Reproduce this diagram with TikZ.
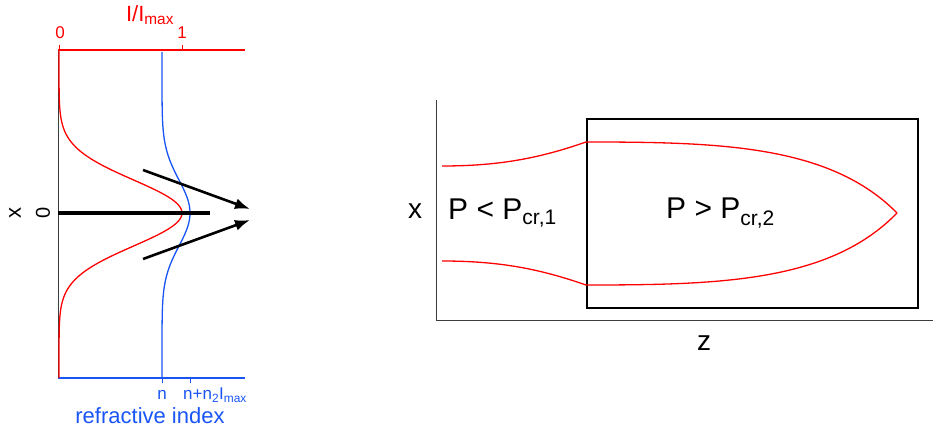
\documentclass[tikz,border=0pt]{standalone}
\usepackage{fontspec}
\setmainfont{Liberation Sans}
\usetikzlibrary{arrows.meta}
\definecolor{rd}{RGB}{255,0,0}
\definecolor{bl}{RGB}{25,85,245}
\definecolor{ax}{RGB}{60,60,60}
\newcommand{\fs}[1]{\fontsize{#1}{#1}\selectfont}
\begin{document}
\begin{tikzpicture}[x=1pt,y=-1pt,
  axisline/.style={ax, line width=1pt},
  redcurve/.style={rd, line width=1.3pt},
  bluecurve/.style={bl, line width=1.3pt},
  ray/.style={black, line width=2.6pt, -{Latex[length=15pt,width=11pt]}},
  boxline/.style={black, line width=1.8pt},
  txt/.style={inner sep=0pt, text=black}]
\useasboundingbox (0,0) rectangle (933,430);

% ---------- left panel ----------
\coordinate (lt) at (58,50);
\coordinate (lb) at (58,378);
\coordinate (rt) at (245,50);
\coordinate (rb) at (245,378);
\draw[axisline] (lt) -- (lb);
\draw[rd, line width=1.2pt] (lt) -- (rt);
\draw[bl, line width=1.2pt] (lb) -- (rb);
% ticks
\coordinate (t0) at (59,50);
\coordinate (t0u) at (59,45);
\coordinate (t1) at (182,50);
\coordinate (t1u) at (182,45);
\draw[rd, line width=1pt] (t0) -- (t0u);
\draw[rd, line width=1pt] (t1) -- (t1u);
\coordinate (tn) at (162,378);
\coordinate (tnd) at (162,383);
\coordinate (tm) at (190,378);
\coordinate (tmd) at (190,383);
\draw[bl, line width=1pt] (tn) -- (tnd);
\draw[bl, line width=1pt] (tm) -- (tmd);
% labels
\node[txt, text=rd, font=\fs{22}] (imax) at (150,15) {I/I\textsubscript{max}};
\node[txt, text=rd, font=\fs{17}] (zero) at (60,33) {0};
\node[txt, text=rd, font=\fs{17}] (one) at (182,33) {1};
\node[txt, text=bl, font=\fs{17}] (nl) at (162,395) {n};
\node[txt, text=bl, font=\fs{17}] (nn) at (215,395) {n+n\textsubscript{2}I\textsubscript{max}};
\node[txt, text=bl, font=\fs{22}] (ri) at (150,416) {refractive index};
\node[txt, font=\fs{22}, rotate=90] (xl) at (15,213) {x};
\node[txt, font=\fs{20}, rotate=90] (x0) at (43,213) {0};
% curves
\draw[redcurve] plot[domain=51:378, samples=160, smooth]
  ({59+123*exp(-0.5*((\x-213)/33)^2)}, \x);
\draw[bluecurve] plot[domain=52:378, samples=160, smooth]
  ({162+28*exp(-0.5*((\x-213)/33)^2)}, \x);
% rays
\coordinate (h0) at (58,213);
\coordinate (h1) at (210,213);
\draw[black, line width=3.2pt] (h0) -- (h1);
\coordinate (a1s) at (143,170);
\coordinate (a1e) at (250,209);
\coordinate (a2s) at (143,259);
\coordinate (a2e) at (250,220);
\draw[ray] (a1s) -- (a1e);
\draw[ray] (a2s) -- (a2e);

% ---------- right panel ----------
\coordinate (ro) at (436,320);
\coordinate (ry) at (436,100);
\coordinate (rx) at (933,320);
\draw[axisline] (ry) -- (ro) -- (rx);
\draw[boxline] (587,119) rectangle (918,308);
\node[txt, font=\fs{28}] (xr) at (415,211) {x};
\node[txt, font=\fs{28}] (zr) at (704,343) {z};
\node[txt, font=\fs{30}, anchor=west] (p1) at (448,213) {P < P\textsubscript{cr,1}};
\node[txt, font=\fs{30}, anchor=west] (p2) at (666,213) {P > P\textsubscript{cr,2}};
% beam curves
\coordinate (u0) at (442,166);
\coordinate (u1) at (586,142);
\coordinate (tip) at (897,213);
\coordinate (l0) at (442,261);
\coordinate (l1) at (586,285);
\draw[redcurve] (u0) .. controls (500,166) and (540,158) .. (u1)
  .. controls (720,142) and (830,145) .. (tip);
\draw[redcurve] (l0) .. controls (500,261) and (540,269) .. (l1)
  .. controls (720,285) and (830,282) .. (tip);
\end{tikzpicture}
\end{document}
